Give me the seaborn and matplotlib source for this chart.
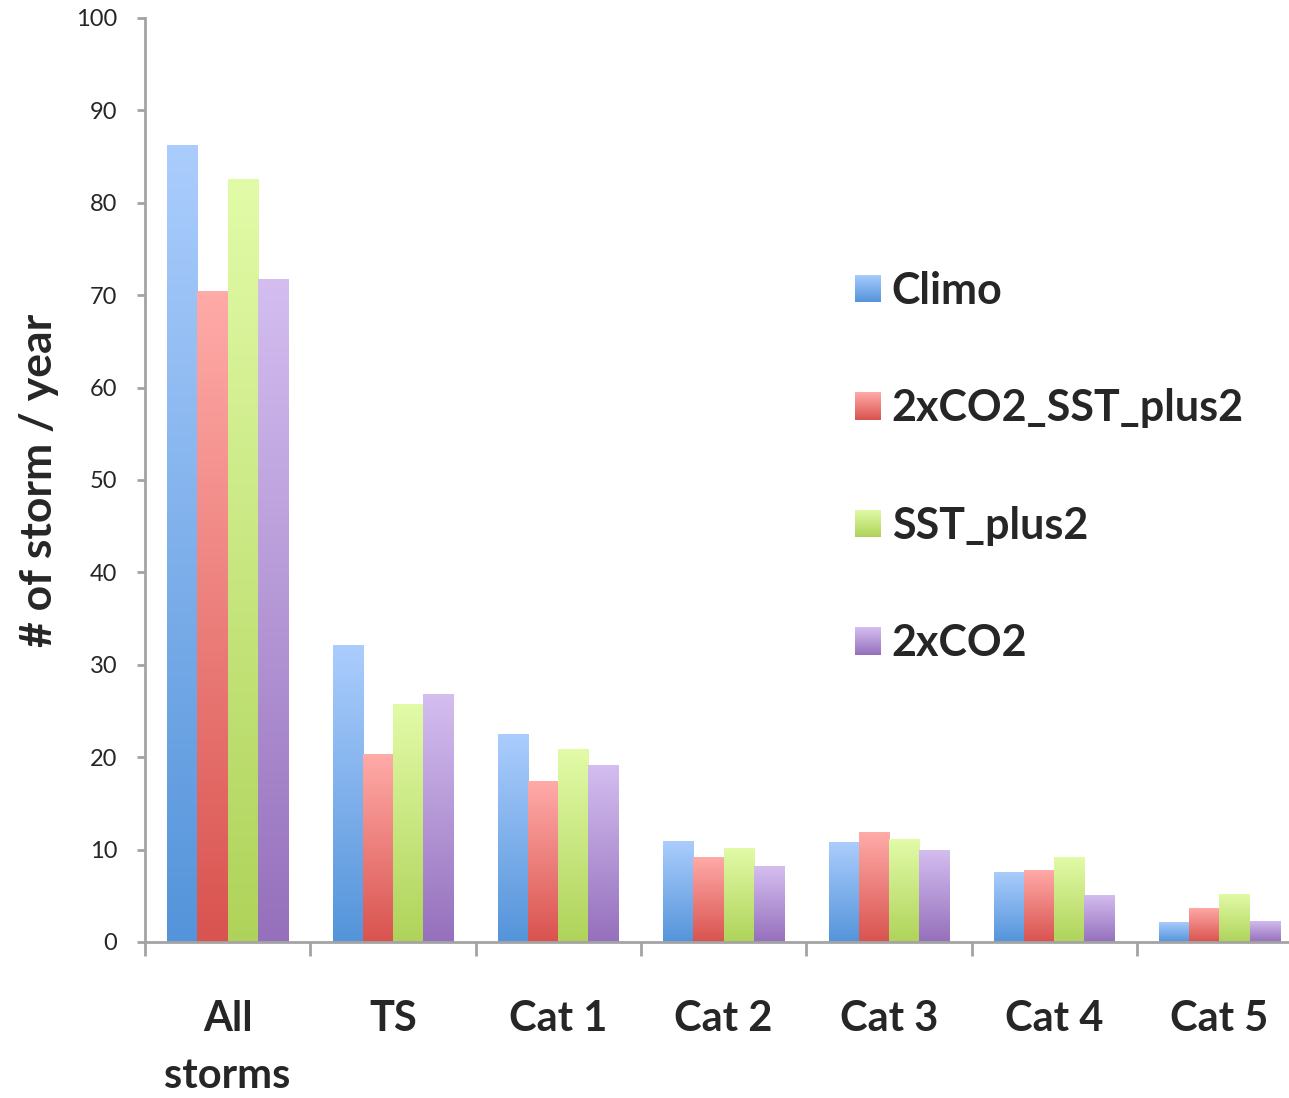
import numpy as np
import pandas as pd
import matplotlib
matplotlib.use("Agg")
import matplotlib.pyplot as plt
from matplotlib.colors import LinearSegmentedColormap, to_rgb
from matplotlib.patches import Patch
import seaborn as sns

categories = ["All\nstorms", "TS", "Cat 1", "Cat 2", "Cat 3", "Cat 4", "Cat 5"]
series = ["Climo", "2xCO2_SST_plus2", "SST_plus2", "2xCO2"]
climo = [86.3, 32.1, 22.5, 10.9, 10.8, 7.6, 2.2]
co2_sst = [70.5, 20.3, 17.4, 9.2, 11.9, 7.8, 3.7]
sst = [82.6, 25.8, 20.9, 10.2, 11.1, 9.2, 5.2]
co2 = [71.8, 26.8, 19.2, 8.2, 10.0, 5.1, 2.3]
y_ticks = list(range(0, 101, 10))

# light (top) and dark (bottom) shade of each series
top_colors = ["#abcdfd", "#ffaba8", "#e2fba8", "#d4bef0"]
bottom_colors = ["#5494da", "#d9534f", "#afd35a", "#9570bc"]

df = pd.DataFrame({
    "category": np.repeat(categories, 4),
    "series": series * len(categories),
    "value": np.ravel(np.column_stack([climo, co2_sst, sst, co2])),
})

sns.set_style("white")
plt.rcParams["font.family"] = ["Lato", "DejaVu Sans"]

W, H = 1289, 1098
fig = plt.figure(figsize=(W / 100, H / 100), dpi=100)
ax = fig.add_axes([145 / W, 1 - 942 / H, 1 - 145 / W, (942 - 18) / H])

sns.barplot(data=df, x="category", y="value", hue="series", order=categories,
            hue_order=series, palette=bottom_colors, width=0.73, ax=ax,
            legend=False, saturation=1, linewidth=0)


def gradient_fill(target_ax, patch, c_top, c_bot, extent):
    cmap = LinearSegmentedColormap.from_list("g", [to_rgb(c_bot), to_rgb(c_top)])
    grad = np.linspace(0, 1, 256).reshape(-1, 1)
    im = target_ax.imshow(grad, cmap=cmap, origin="lower", aspect="auto",
                          extent=extent, zorder=patch.get_zorder() + 0.1)
    im.set_clip_path(patch)
    return im


# vertical gradient fill, clipped to each bar
for cont, c_top, c_bot in zip(ax.containers, top_colors, bottom_colors):
    for bar in cont:
        x0, y0 = bar.get_x(), bar.get_y()
        gradient_fill(ax, bar, c_top, c_bot,
                      (x0, x0 + bar.get_width(), y0, y0 + bar.get_height()))

ax.set_autoscale_on(False)
xlim = (-0.5, -0.5 + (W - 145) / 165.3)
ax.set_xlim(*xlim)
ax.set_ylim(0, 100)
ax.set_yticks(y_ticks)
ax.set_yticklabels([str(t) for t in y_ticks], fontsize=17)

spine_color = "#a3a3a3"
for side in ["top", "right"]:
    ax.spines[side].set_visible(False)
for side in ["left", "bottom"]:
    ax.spines[side].set_color(spine_color)
    ax.spines[side].set_linewidth(2.0)

ax.tick_params(axis="y", left=True, length=6, width=2.0, color=spine_color, pad=14)
ax.set_xticks(range(len(categories)))
ax.set_xticklabels(categories, fontsize=30, fontweight="bold", linespacing=1.6)
ax.set_xticks(np.arange(-0.5, len(categories), 1.0), minor=True)
ax.tick_params(axis="x", which="major", length=0, pad=42)
ax.tick_params(axis="x", which="minor", bottom=True, length=10, width=2.0, color=spine_color)

ax.set_xlabel("")
ax.set_ylabel("# of storm / year", fontsize=32, fontweight="bold", labelpad=12)

handles = [Patch(facecolor=b, edgecolor="none") for b in bottom_colors]
leg = ax.legend(handles, series, loc="upper left", bbox_to_anchor=(0.6052, 0.745),
                frameon=False, prop={"size": 31, "weight": "bold"},
                handlelength=0.6, handleheight=0.6, handletextpad=0.26,
                labelspacing=1.80, borderaxespad=0)

ax.set_xlim(*xlim)

# gradient swatches in the legend
fig.canvas.draw()
inv = fig.transFigure.inverted()
for p, c_top, c_bot in zip(leg.get_patches(), top_colors, bottom_colors):
    bb = p.get_window_extent().transformed(inv)
    sw = fig.add_axes([bb.x0, bb.y0, bb.width, bb.height])
    sw.set_axis_off()
    cmap = LinearSegmentedColormap.from_list("g", [to_rgb(c_bot), to_rgb(c_top)])
    sw.imshow(np.linspace(0, 1, 64).reshape(-1, 1), cmap=cmap, origin="lower",
              aspect="auto", extent=(0, 1, 0, 1))

fig.savefig("out.png", dpi=100)
